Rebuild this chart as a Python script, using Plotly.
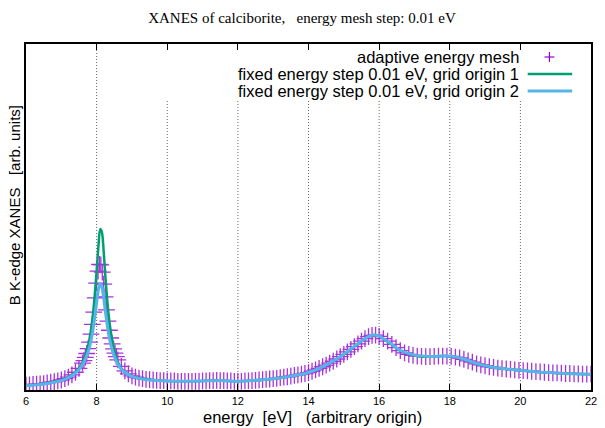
import plotly.graph_objects as go

# ---------------- data ----------------
line_energy = [6.0, 6.4, 6.8, 7.0, 7.2, 7.4, 7.5, 7.6, 7.7, 7.8, 7.85, 7.9, 7.95,
               8.0, 8.05, 8.1, 8.15, 8.2, 8.25, 8.3, 8.35, 8.4, 8.5, 8.6, 8.7, 8.8,
               9.0, 9.2, 9.5, 10.0, 10.5, 11.0, 11.3, 11.6, 12.0, 12.5, 13.0, 13.5,
               14.0, 14.5, 15.0, 15.4, 15.7, 15.85, 16.0, 16.3, 16.6, 17.0, 17.4,
               17.8, 18.1, 18.4, 18.8, 19.2, 19.6, 20.0, 20.5, 21.0, 21.5, 22.0]

fixed_origin1 = [0.11, 0.15, 0.22, 0.27, 0.37, 0.52, 0.64, 0.82, 1.10, 1.55, 1.90, 2.35, 2.95,
                 3.65, 4.40, 4.95, 4.85, 4.25, 3.45, 2.75, 2.20, 1.78, 1.20, 0.84, 0.64, 0.53,
                 0.40, 0.34, 0.29, 0.25, 0.24, 0.25, 0.26, 0.26, 0.24, 0.27, 0.32, 0.40,
                 0.51, 0.74, 1.07, 1.40, 1.62, 1.67, 1.63, 1.42, 1.19, 1.04, 1.00,
                 1.02, 1.01, 0.92, 0.77, 0.68, 0.62, 0.58, 0.53, 0.50, 0.47, 0.46]

fixed_origin2 = [0.10, 0.14, 0.21, 0.26, 0.35, 0.49, 0.60, 0.75, 0.97, 1.30, 1.55, 1.86, 2.25,
                 2.68, 3.08, 3.27, 3.16, 2.82, 2.38, 1.98, 1.64, 1.38, 1.01, 0.77, 0.61, 0.51,
                 0.39, 0.33, 0.28, 0.25, 0.24, 0.25, 0.26, 0.26, 0.24, 0.27, 0.32, 0.40,
                 0.51, 0.75, 1.08, 1.41, 1.63, 1.67, 1.64, 1.43, 1.20, 1.05, 1.01,
                 1.02, 1.01, 0.93, 0.78, 0.68, 0.62, 0.58, 0.53, 0.50, 0.47, 0.46]

mesh_energy = [6.0, 6.1, 6.2, 6.3, 6.4, 6.5, 6.6, 6.7, 6.8, 6.9, 7.0, 7.1, 7.2, 7.3, 7.4, 7.5, 7.6,
               7.64, 7.68, 7.72, 7.76, 7.80, 7.84, 7.88, 7.92, 7.96, 8.00, 8.04, 8.08, 8.12,
               8.16, 8.20, 8.24, 8.28, 8.32, 8.36, 8.40, 8.44, 8.48, 8.52, 8.56,
               8.6, 8.7, 8.8, 8.9, 9.0, 9.1, 9.2, 9.3, 9.4, 9.5, 9.6, 9.7, 9.8, 9.9,
               10.0, 10.1, 10.2, 10.3, 10.4, 10.5, 10.6, 10.7, 10.8, 10.9,
               11.0, 11.1, 11.2, 11.3, 11.4, 11.5, 11.6, 11.7, 11.8, 11.9,
               12.0, 12.1, 12.2, 12.3, 12.4, 12.5, 12.6, 12.7, 12.8, 12.9,
               13.0, 13.1, 13.2, 13.3, 13.4, 13.5, 13.6, 13.7, 13.8, 13.9,
               14.0, 14.1, 14.2, 14.3, 14.4, 14.5, 14.6, 14.7, 14.8, 14.9,
               15.0, 15.1, 15.2, 15.3, 15.4, 15.5, 15.6, 15.7, 15.8, 15.9, 16.0,
               16.12, 16.24, 16.36, 16.48, 16.60, 16.72, 16.84, 16.96, 17.08, 17.20,
               17.32, 17.44, 17.56, 17.68, 17.80, 17.92, 18.04, 18.16, 18.28, 18.40,
               18.52, 18.64, 18.76, 18.88, 19.00, 19.12, 19.24, 19.36, 19.48, 19.60,
               19.72, 19.84, 19.96, 20.08, 20.20, 20.32, 20.44, 20.56, 20.68, 20.80,
               20.92, 21.04, 21.16, 21.28, 21.40, 21.52, 21.64, 21.76, 21.88, 22.00]

adaptive_mesh = [0.12, 0.13, 0.14, 0.15, 0.16, 0.17, 0.19, 0.21, 0.23, 0.25, 0.28, 0.32, 0.37, 0.44, 0.52, 0.64, 0.80,
                 0.88, 0.98, 1.10, 1.25, 1.45, 1.70, 2.00, 2.38, 2.82, 3.28, 3.65, 3.86, 3.84,
                 3.62, 3.25, 2.85, 2.45, 2.10, 1.82, 1.58, 1.40, 1.24, 1.11, 1.00,
                 0.90, 0.70, 0.56, 0.47, 0.41, 0.37, 0.34, 0.32, 0.30, 0.29, 0.28, 0.27, 0.26, 0.26,
                 0.25, 0.25, 0.25, 0.24, 0.24, 0.24, 0.24, 0.24, 0.24, 0.24,
                 0.25, 0.25, 0.26, 0.26, 0.27, 0.26, 0.26, 0.25, 0.25, 0.24,
                 0.24, 0.24, 0.25, 0.25, 0.26, 0.27, 0.28, 0.29, 0.30, 0.31,
                 0.32, 0.33, 0.35, 0.37, 0.38, 0.40, 0.42, 0.44, 0.46, 0.48,
                 0.51, 0.55, 0.59, 0.64, 0.69, 0.74, 0.80, 0.86, 0.93, 1.00,
                 1.07, 1.15, 1.23, 1.31, 1.40, 1.48, 1.56, 1.62, 1.66, 1.67, 1.63,
                 1.56, 1.48, 1.38, 1.28, 1.19, 1.12, 1.07, 1.04, 1.02, 1.01,
                 1.00, 1.00, 1.01, 1.02, 1.02, 1.02, 1.01, 0.99, 0.96, 0.92,
                 0.87, 0.83, 0.78, 0.75, 0.72, 0.69, 0.67, 0.65, 0.63, 0.62,
                 0.61, 0.59, 0.58, 0.57, 0.56, 0.55, 0.54, 0.53, 0.52, 0.51,
                 0.50, 0.50, 0.49, 0.48, 0.48, 0.47, 0.47, 0.46, 0.46, 0.46]

x_ticks = [6, 8, 10, 12, 14, 16, 18, 20, 22]
grid_x = [8, 10, 12, 14, 16, 18, 20]

legend_labels = ["adaptive energy mesh",
                 "fixed energy step 0.01 eV, grid origin 1",
                 "fixed energy step 0.01 eV, grid origin 2"]

title_text = "XANES of calciborite,\u00a0\u00a0 energy mesh step: 0.01 eV"
x_title = "energy \u00a0[eV] \u00a0\u00a0(arbitrary origin)"
y_title = "B K-edge XANES \u00a0\u00a0[arb. units]"

PURPLE = "#9400D3"
GREEN = "#009E73"
BLUE = "#56B4E9"
SANS = "Liberation Sans, Arial, sans-serif"
SERIF = "Liberation Serif, Times New Roman, serif"

# ---------------- figure ----------------
fig = go.Figure()

fig.add_trace(go.Scatter(
    x=mesh_energy, y=adaptive_mesh, mode="markers", name=legend_labels[0],
    marker=dict(symbol="cross-thin", size=12, color=PURPLE,
                line=dict(color=PURPLE, width=1.3)),
    opacity=0.8, showlegend=False))

fig.add_trace(go.Scatter(
    x=line_energy, y=fixed_origin1, mode="lines", name=legend_labels[1],
    line=dict(color=GREEN, width=2.5, shape="spline", smoothing=0.8),
    showlegend=False))

fig.add_trace(go.Scatter(
    x=line_energy, y=fixed_origin2, mode="lines", name=legend_labels[2],
    line=dict(color=BLUE, width=3, shape="spline", smoothing=0.8),
    showlegend=False))

# plot area geometry in pixels
W, H = 605, 428
L, R, T, B = 26, 8, 44, 38
pw, ph = W - L - R, H - T - B

def px_x(px):
    return (px - L) / pw

def px_y(py):
    return (H - B - py) / ph

shapes = []
# vertical dotted grid; the key box hides them above y=100 px except at x=8
for gx in grid_x:
    top = 1.0 if gx == 8 else px_y(100)
    shapes.append(dict(type="line", xref="x", yref="paper", x0=gx, x1=gx,
                       y0=0, y1=top, layer="below",
                       line=dict(color="#666666", width=1, dash="1px,2px")))

# key samples
rows_y = [px_y(57), px_y(74), px_y(91)]
sx0, sx1 = px_x(533), px_x(578)
pcx = px_x(555)
dx, dy = 5 / pw, 5 / ph
shapes.append(dict(type="line", xref="paper", yref="paper", x0=pcx - dx, x1=pcx + dx,
                   y0=rows_y[0], y1=rows_y[0], line=dict(color=PURPLE, width=1.2)))
shapes.append(dict(type="line", xref="paper", yref="paper", x0=pcx, x1=pcx,
                   y0=rows_y[0] - dy, y1=rows_y[0] + dy, line=dict(color=PURPLE, width=1.2)))
shapes.append(dict(type="line", xref="paper", yref="paper", x0=sx0, x1=sx1,
                   y0=rows_y[1], y1=rows_y[1], line=dict(color=GREEN, width=2.5)))
shapes.append(dict(type="line", xref="paper", yref="paper", x0=sx0, x1=sx1,
                   y0=rows_y[2], y1=rows_y[2], line=dict(color=BLUE, width=3)))

annotations = []
for lbl, ry in zip(legend_labels, rows_y):
    annotations.append(dict(text=lbl, xref="paper", yref="paper", x=px_x(526), y=ry,
                            xanchor="right", yanchor="middle", showarrow=False,
                            font=dict(family=SANS, size=16.5, color="black")))

annotations.append(dict(text=y_title, xref="paper", yref="paper", x=px_x(14), y=px_y(205),
                        xanchor="center", yanchor="middle", textangle=-90, showarrow=False,
                        font=dict(family=SANS, size=15, color="black")))
annotations.append(dict(text=x_title, xref="paper", yref="paper", x=px_x(316), y=px_y(417),
                        xanchor="center", yanchor="middle", showarrow=False,
                        font=dict(family=SANS, size=16.5, color="black")))

fig.update_layout(
    width=W, height=H,
    margin=dict(l=L, r=R, t=T, b=B, pad=0),
    paper_bgcolor="white", plot_bgcolor="white",
    title=dict(text=title_text, x=302 / W, xanchor="center",
               y=1 - 18 / H, yanchor="middle", yref="container",
               font=dict(family=SERIF, size=15, color="black")),
    shapes=shapes, annotations=annotations,
    xaxis=dict(range=[6, 22], tickvals=x_ticks, ticktext=[str(t) for t in x_ticks],
               ticks="inside", ticklen=6, tickwidth=1, tickcolor="black",
               showline=True, linecolor="black", linewidth=1.5, mirror="ticks",
               showgrid=False, zeroline=False,
               tickfont=dict(family=SANS, size=11, color="black")),
    yaxis=dict(range=[-0.03, 10.68], showticklabels=False, ticks="",
               showline=True, linecolor="black", linewidth=1.5, mirror=True,
               showgrid=False, zeroline=False),
    showlegend=False,
)

fig.write_html("out.html", config={"displayModeBar": False},
               post_script="document.body.style.margin='0';document.body.style.padding='0';")
